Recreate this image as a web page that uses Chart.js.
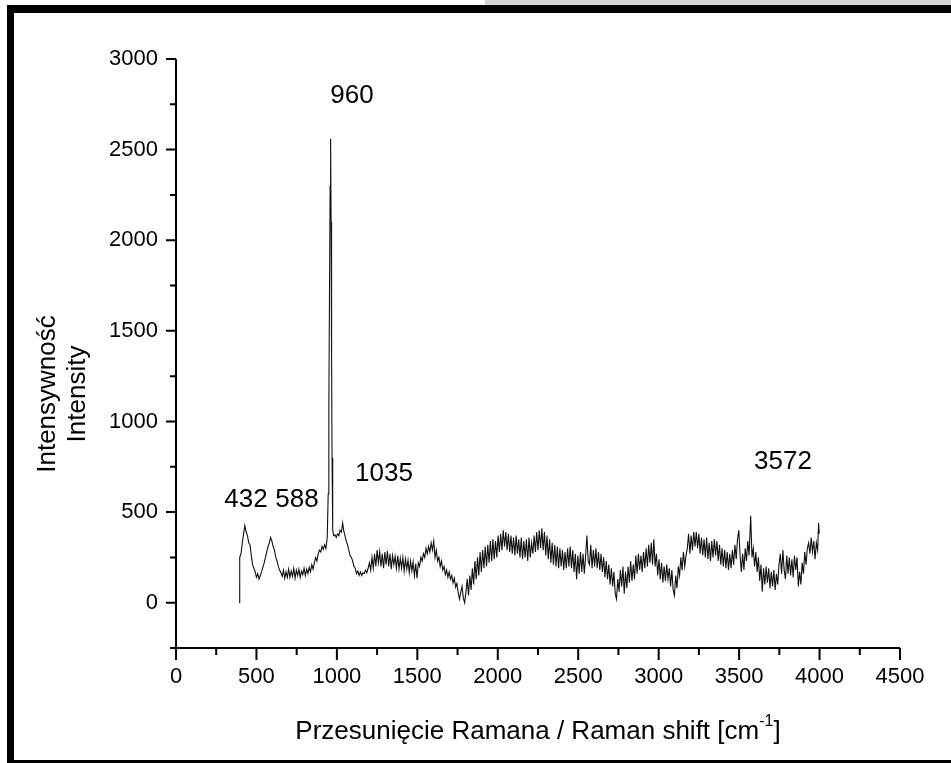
<!DOCTYPE html>
<html>
<head>
<meta charset="utf-8">
<script src="https://cdn.jsdelivr.net/npm/chart.js@4.4.0/dist/chart.umd.min.js"></script>
<style>
    html, body { margin: 0; padding: 0; background: #fff; }
    #wrap { width: 951px; height: 763px; position: relative; }
</style>
</head>
<body>
<div id="wrap"><canvas id="ramanChart" width="951" height="763"></canvas></div>
<script>
// Raman spectrum: [shift cm-1, intensity]
const spectrum = [
    [392,0],[396,250],[404,270],[412,330],[420,380],[428,425],[436,390],[444,370],[452,330],[460,320],
    [468,260],[476,210],[484,190],[492,170],[500,140],[508,160],[516,130],[524,150],[532,170],[540,195],
    [548,220],[556,250],[564,280],[572,310],[580,330],[588,360],[596,340],[604,310],[612,290],[620,250],
    [628,230],[636,200],[644,180],[652,165],[660,145],[668,180],[676,135],[684,170],[692,140],[700,185],
    [708,140],[716,175],[724,145],[732,190],[740,135],[748,180],[756,150],[764,185],[772,140],[780,175],
    [788,155],[796,190],[804,150],[812,185],[820,160],[828,195],[836,170],[844,210],[852,185],[860,220],
    [868,250],[876,230],[884,270],[892,290],[900,280],[908,310],[916,295],[924,320],[932,300],[940,360],
    [946,600],[950,1050],[954,1700],[958,2300],[961,2560],[964,2100],[967,1400],[970,800],[974,400],[980,370],
    [988,375],[996,360],[1004,380],[1012,370],[1020,400],[1028,390],[1036,440],[1042,400],[1050,370],[1058,340],
    [1066,320],[1074,290],[1082,260],[1090,250],[1098,230],[1106,200],[1114,190],[1122,160],[1130,175],[1138,150],
    [1146,170],[1154,150],[1162,165],[1170,160],[1178,180],[1186,165],[1194,190],[1202,220],[1210,180],[1218,250],
    [1226,190],[1234,270],[1242,200],[1250,290],[1258,220],[1266,280],[1274,200],[1282,270],[1290,190],[1298,280],
    [1306,210],[1314,285],[1322,200],[1330,270],[1338,185],[1346,260],[1354,210],[1362,255],[1370,190],[1378,260],
    [1386,185],[1394,245],[1402,190],[1410,250],[1418,175],[1426,240],[1434,185],[1442,235],[1450,165],[1458,230],
    [1466,175],[1474,225],[1482,150],[1490,215],[1498,135],[1506,220],[1514,200],[1522,250],[1530,230],[1538,270],
    [1546,250],[1554,300],[1562,270],[1570,310],[1578,280],[1586,330],[1594,290],[1602,340],[1610,250],[1618,290],
    [1626,230],[1634,250],[1642,200],[1650,230],[1658,180],[1666,200],[1674,155],[1682,180],[1690,140],[1698,170],
    [1706,130],[1714,150],[1722,110],[1730,135],[1738,85],[1746,105],[1754,55],[1762,20],[1770,60],[1778,90],
    [1786,25],[1794,0],[1802,60],[1810,130],[1818,40],[1826,150],[1834,70],[1842,190],[1850,100],[1858,230],
    [1866,130],[1874,250],[1882,150],[1890,280],[1898,170],[1906,290],[1914,190],[1922,310],[1930,200],[1938,320],
    [1946,220],[1954,340],[1962,230],[1970,350],[1978,240],[1986,340],[1994,250],[2002,370],[2010,280],[2018,380],
    [2026,290],[2034,400],[2042,310],[2050,390],[2058,290],[2066,380],[2074,280],[2082,370],[2090,270],[2098,360],
    [2106,260],[2114,370],[2122,270],[2130,350],[2138,250],[2146,360],[2154,240],[2162,340],[2170,250],[2178,350],
    [2186,230],[2194,360],[2202,250],[2210,330],[2218,270],[2226,370],[2234,280],[2242,390],[2250,290],[2258,400],
    [2266,300],[2274,410],[2282,290],[2290,390],[2298,260],[2306,370],[2314,240],[2322,350],[2330,220],[2338,330],
    [2346,210],[2354,320],[2362,200],[2370,310],[2378,190],[2386,300],[2394,200],[2402,290],[2410,180],[2418,280],
    [2426,190],[2434,300],[2442,200],[2450,310],[2458,190],[2466,290],[2474,170],[2482,270],[2490,130],[2498,260],
    [2506,160],[2514,280],[2522,170],[2530,270],[2538,160],[2546,260],[2554,370],[2562,230],[2570,210],[2578,320],
    [2586,190],[2594,290],[2602,200],[2610,300],[2618,190],[2626,280],[2634,180],[2642,270],[2650,170],[2658,250],
    [2666,140],[2674,230],[2682,130],[2690,210],[2698,100],[2706,190],[2714,90],[2722,170],[2730,50],[2738,20],
    [2746,130],[2754,60],[2762,180],[2770,90],[2778,200],[2786,50],[2794,170],[2802,80],[2810,200],[2818,110],
    [2826,230],[2834,120],[2842,210],[2850,130],[2858,260],[2866,160],[2874,270],[2882,180],[2890,260],[2898,170],
    [2906,280],[2914,190],[2922,300],[2930,200],[2938,320],[2946,220],[2954,330],[2962,210],[2970,350],[2978,200],
    [2986,270],[2994,150],[3002,240],[3010,130],[3018,220],[3026,110],[3034,200],[3042,120],[3050,210],[3058,130],
    [3066,190],[3074,90],[3082,180],[3090,70],[3098,40],[3106,150],[3114,80],[3122,200],[3130,150],[3138,250],
    [3146,180],[3154,280],[3162,200],[3170,260],[3178,300],[3186,380],[3194,270],[3202,370],[3210,290],[3218,390],
    [3226,310],[3234,390],[3242,300],[3250,380],[3258,270],[3266,360],[3274,260],[3282,350],[3290,250],[3298,360],
    [3306,240],[3314,330],[3322,230],[3330,340],[3338,250],[3346,350],[3354,260],[3362,340],[3370,230],[3378,320],
    [3386,210],[3394,300],[3402,200],[3410,290],[3418,190],[3426,280],[3434,180],[3442,270],[3450,190],[3458,290],
    [3466,210],[3474,320],[3482,240],[3490,350],[3498,400],[3506,260],[3514,170],[3522,270],[3530,180],[3538,300],
    [3546,230],[3554,340],[3562,260],[3572,480],[3580,250],[3588,300],[3596,200],[3604,280],[3612,170],[3620,250],
    [3628,120],[3636,210],[3644,60],[3652,190],[3660,100],[3668,200],[3676,110],[3684,190],[3692,80],[3700,170],
    [3708,90],[3716,180],[3724,70],[3732,160],[3740,100],[3748,210],[3756,270],[3764,160],[3772,290],[3780,180],
    [3788,130],[3796,260],[3804,160],[3812,250],[3820,150],[3828,240],[3836,140],[3844,260],[3852,180],[3860,250],
    [3868,90],[3876,170],[3884,100],[3892,220],[3900,160],[3908,280],[3916,210],[3924,300],[3932,330],[3940,270],
    [3948,360],[3956,280],[3964,340],[3972,240],[3980,330],[3988,290],[3994,440],[3998,380]
];

// axis ticks (every 250, labels every 500)
const xTickValues = [0,250,500,750,1000,1250,1500,1750,2000,2250,2500,2750,3000,3250,3500,3750,4000,4250,4500];
const xTickLabels = ['0','500','1000','1500','2000','2500','3000','3500','4000','4500'];
const yTickValues = [-250,0,250,500,750,1000,1250,1500,1750,2000,2250,2500,2750,3000];
const yTickLabels = ['0','500','1000','1500','2000','2500','3000'];

// peak annotations, anchored in data units
const peakNames = ['432','588','960','1035','3572'];
const peakAnchorX = [435, 752, 1094, 1293, 3773];
const peakAnchorY = [565, 565, 2796, 709, 775];

const yTitleLines = ['Intensywność', 'Intensity'];
const xTitleMain = 'Przesunięcie Ramana / Raman shift [cm';
const xTitleSup = '-1';
const xTitleEnd = ']';

const FONT = "'Liberation Sans', Arial, sans-serif";

// frame + axes + ticks + titles
const decorPlugin = {
    id: 'decor',
    beforeDraw(chart) {
        const ctx = chart.ctx;
        ctx.save();
        ctx.fillStyle = '#fff';
        ctx.fillRect(0, 0, chart.width, chart.height);
        ctx.fillStyle = '#d3d3d3';
        ctx.fillRect(485, 0, 466, 5);
        ctx.fillStyle = '#000';
        ctx.fillRect(7, 5, 944, 8);
        ctx.fillRect(7, 5, 7, 758);
        ctx.fillRect(7, 760, 944, 3);
        ctx.restore();
    },
    afterDraw(chart) {
        const ctx = chart.ctx;
        const xs = chart.scales.x, ys = chart.scales.y;
        const area = chart.chartArea;
        ctx.save();
        ctx.strokeStyle = '#000';
        ctx.lineWidth = 2;
        ctx.beginPath();
        ctx.moveTo(area.left, ys.getPixelForValue(3000));
        ctx.lineTo(area.left, area.bottom);
        ctx.moveTo(area.left, area.bottom);
        ctx.lineTo(xs.getPixelForValue(4500), area.bottom);
        yTickValues.forEach(v => {
            const py = ys.getPixelForValue(v);
            const len = v % 500 === 0 ? 10 : 6;
            ctx.moveTo(area.left - len, py);
            ctx.lineTo(area.left, py);
        });
        xTickValues.forEach(v => {
            const px = xs.getPixelForValue(v);
            const len = v % 500 === 0 ? 12 : 7;
            ctx.moveTo(px, area.bottom);
            ctx.lineTo(px, area.bottom + len);
        });
        ctx.stroke();

        // peak labels
        ctx.fillStyle = '#000';
        ctx.font = '26px ' + FONT;
        ctx.textAlign = 'center';
        ctx.textBaseline = 'middle';
        peakNames.forEach((t, i) => {
            ctx.fillText(t, xs.getPixelForValue(peakAnchorX[i]), ys.getPixelForValue(peakAnchorY[i]));
        });

        // y title (two lines, rotated)
        ctx.save();
        ctx.translate(48, 394);
        ctx.rotate(-Math.PI / 2);
        ctx.fillText(yTitleLines[0], 0, 0);
        ctx.fillText(yTitleLines[1], 0, 30);
        ctx.restore();

        // x title with superscript
        ctx.textAlign = 'left';
        ctx.font = '26px ' + FONT;
        const w1 = ctx.measureText(xTitleMain).width;
        const w3 = ctx.measureText(xTitleEnd).width;
        ctx.font = '16px ' + FONT;
        const w2 = ctx.measureText(xTitleSup).width;
        const x0 = 538 - (w1 + w2 + w3) / 2;
        const yb = 732;
        ctx.font = '26px ' + FONT;
        ctx.fillText(xTitleMain, x0, yb);
        ctx.font = '16px ' + FONT;
        ctx.fillText(xTitleSup, x0 + w1, yb - 10);
        ctx.font = '26px ' + FONT;
        ctx.fillText(xTitleEnd, x0 + w1 + w2, yb);
        ctx.restore();
    }
};

const ctx = document.getElementById('ramanChart').getContext('2d');
const chart = new Chart(ctx, {
    type: 'line',
    data: {
        datasets: [{
            label: 'Raman',
            data: spectrum.map(p => ({ x: p[0], y: p[1] })),
            borderColor: '#111',
            borderWidth: 1.1,
            pointRadius: 0,
            tension: 0,
            fill: false
        }]
    },
    options: {
        responsive: false,
        animation: false,
        layout: { padding: { left: 0, top: 59, right: 51, bottom: 55 } },
        plugins: { legend: { display: false }, tooltip: { enabled: false } },
        scales: {
            x: {
                type: 'linear',
                min: 0,
                max: 4500,
                grid: { display: false, drawTicks: false },
                border: { display: false },
                afterBuildTicks: (scale) => { scale.ticks = xTickValues.map(v => ({ value: v })); },
                afterFit: (scale) => { scale.height = 60; },
                ticks: {
                    autoSkip: false,
                    maxRotation: 0,
                    padding: 16,
                    color: '#000',
                    font: { family: FONT, size: 22 },
                    callback: (v) => xTickLabels.includes(String(v)) ? String(v) : ''
                }
            },
            y: {
                type: 'linear',
                min: -250,
                max: 3000,
                grid: { display: false, drawTicks: false },
                border: { display: false },
                afterBuildTicks: (scale) => { scale.ticks = yTickValues.map(v => ({ value: v })); },
                afterFit: (scale) => { scale.width = 176; },
                ticks: {
                    autoSkip: false,
                    padding: 18,
                    color: '#000',
                    font: { family: FONT, size: 22 },
                    callback: (v) => yTickLabels.includes(String(v)) ? String(v) : ''
                }
            }
        }
    },
    plugins: [decorPlugin]
});
</script>
</body>
</html>
